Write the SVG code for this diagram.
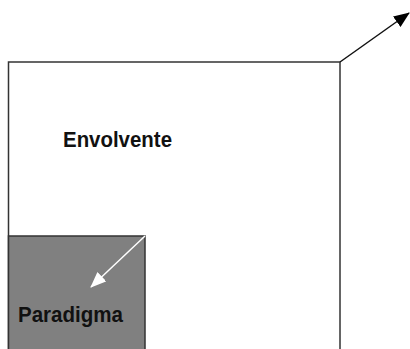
<svg xmlns="http://www.w3.org/2000/svg" width="410" height="349" viewBox="0 0 410 349">
<style>
.box{stroke:#333;stroke-width:1.5}
.lbl{font-family:"Liberation Sans",Arial,sans-serif;font-weight:bold;font-size:22px;fill:#111}
</style>
<defs>
<marker id="ahB" markerWidth="16" markerHeight="13" refX="15" refY="6.5" orient="auto" markerUnits="userSpaceOnUse" viewBox="0 0 16 13"><path d="M0,0 L16,6.5 L0,13 z" fill="#000"/></marker>
<marker id="ahW" markerWidth="16" markerHeight="13" refX="15" refY="6.5" orient="auto" markerUnits="userSpaceOnUse" viewBox="0 0 16 13"><path d="M0,0 L16,6.5 L0,13 z" fill="#fff"/></marker>
</defs>
<rect width="410" height="349" fill="#fff"/>
<g id="envolvente">
<rect class="box" x="8.5" y="62" width="331.5" height="300" fill="#fff"/>
<text class="lbl" x="63" y="146.5" textLength="109" lengthAdjust="spacingAndGlyphs">Envolvente</text>
</g>
<g id="paradigma">
<rect class="box" x="8.5" y="236" width="136.5" height="130" fill="#808080"/>
<text class="lbl" x="18" y="322" textLength="105" lengthAdjust="spacingAndGlyphs">Paradigma</text>
</g>
<g id="connectors">
<line x1="340" y1="62" x2="409" y2="13" stroke="#111" stroke-width="1.5" marker-end="url(#ahB)"/>
<line x1="145" y1="236" x2="91" y2="287" stroke="#fff" stroke-width="1.5" marker-end="url(#ahW)"/>
</g>
</svg>
